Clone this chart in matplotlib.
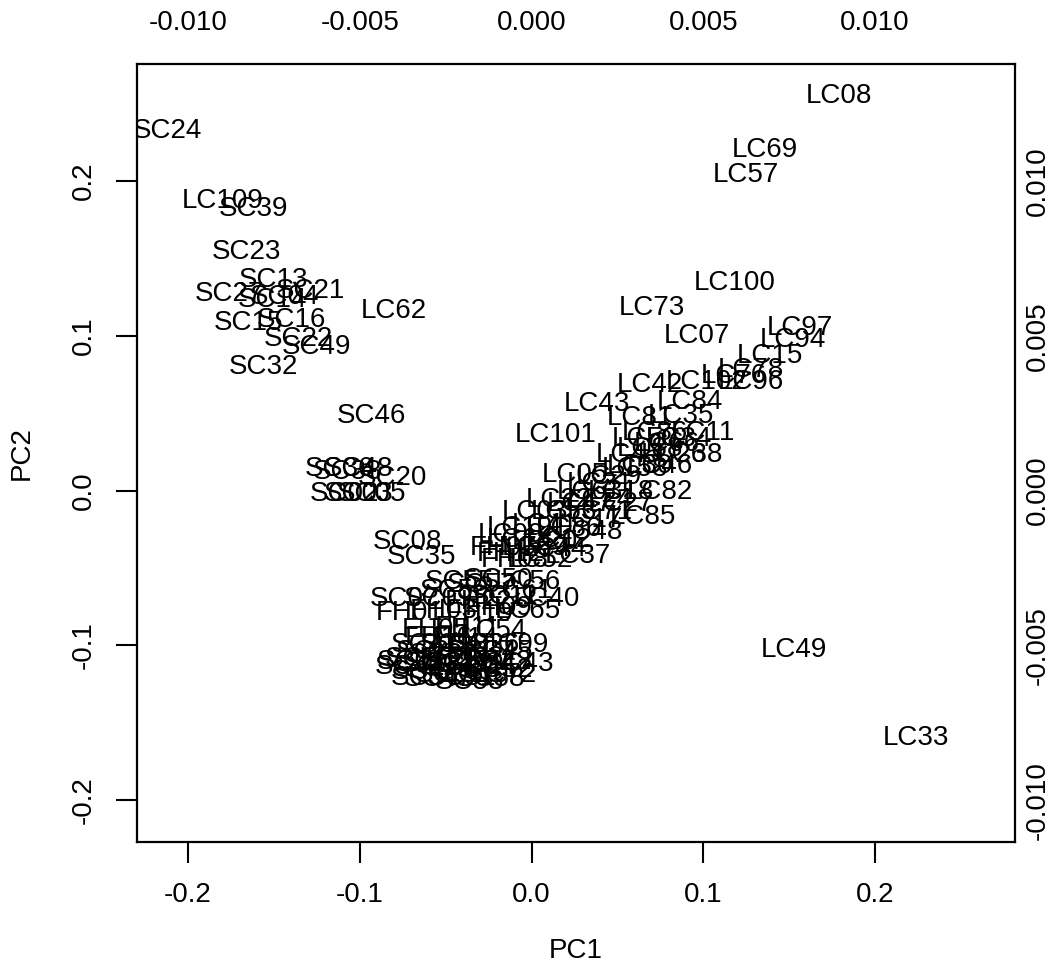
import matplotlib
matplotlib.use("Agg")
import matplotlib.pyplot as plt

plt.rcParams['font.family'] = ['Liberation Sans', 'DejaVu Sans']

# Sample labels and PC scores
labels = [
    "SC24", "LC08", "LC69", "LC57", "LC100", "LC73", "LC07", "LC97", "LC94", "LC15", "LC78",
    "LC42", "LC102", "LC96", "LC76", "LC43", "LC84", "LC81", "LC35", "LC11", "LC101",
    "LC86", "LC66", "LC88", "LC26", "LC30", "LC46", "LC05", "LC29", "LC58", "LC63", "LC18",
    "LC82", "LC03", "LC53", "LC71", "LC47", "LC85", "LC19", "LC41", "LC36", "LC48", "LC14",
    "FH07", "FH12", "LC39", "LC44", "LC37", "LC20", "LC24",
    "LC09", "LC12", "LC17", "LC22", "LC27", "LC31", "LC34", "LC38", "LC45", "LC50", "FH08", "LC52",
    "SC23", "LC109", "SC39", "SC13", "SC21", "SC27", "SC14", "SC04", "SC15", "SC16", "SC22",
    "SC49", "SC32", "LC62", "SC46", "SC36", "SC48", "SC38", "SC20", "SC02", "SC03", "SC05",
    "SC08", "SC35", "LC49", "LC33",
    "SC55", "SC57", "SC50", "LC56", "SC07", "SC09", "FH22", "SC11", "LC40", "FH01", "FH03",
    "FH19", "LC65", "FH05", "FH11", "LC54", "SC41", "SC18", "SC26", "LC99", "SC45", "SC28",
    "SC30", "SC33", "SC42", "SC12", "SC19", "SC34", "SC44", "SC06", "SC10", "SC52", "SC47",
    "SC31", "SC01", "LC72",
    "SC25", "SC29", "SC37", "SC40", "SC43", "SC53", "SC54", "SC58", "FH14", "FH16",
    "SC59", "FH09", "LC61",
]
pc1 = [
    -0.212, 0.179, 0.136, 0.125, 0.118, 0.070, 0.096, 0.156, 0.152, 0.139, 0.128,
    0.069, 0.102, 0.128, 0.118, 0.038, 0.092, 0.063, 0.087, 0.100, 0.014,
    0.072, 0.079, 0.069, 0.083, 0.063, 0.075, 0.025, 0.045, 0.060, 0.034, 0.052,
    0.075, 0.002, 0.019, 0.040, 0.028, 0.065, -0.007, 0.008, 0.022, 0.034, -0.007,
    -0.016, -0.012, 0.002, 0.013, 0.027, 0.008, 0.040,
    -0.012, 0.016, 0.034, 0.016, 0.052, 0.040, 0.086, 0.092, 0.057, 0.066, -0.010, 0.005,
    -0.166, -0.180, -0.162, -0.150, -0.129, -0.176, -0.151, -0.144, -0.165, -0.140, -0.136,
    -0.125, -0.156, -0.080, -0.093, -0.112, -0.101, -0.107, -0.081, -0.109, -0.101, -0.093,
    -0.072, -0.064, 0.153, 0.224,
    -0.042, -0.029, -0.019, -0.002, -0.074, -0.054, -0.031, -0.016, 0.009, -0.071, -0.051,
    -0.030, -0.002, -0.056, -0.037, -0.022, -0.062, -0.045, -0.027, -0.009, -0.019, -0.065,
    -0.051, -0.036, -0.020, -0.054, -0.042, -0.029, -0.062, -0.048, -0.033, -0.019, -0.054,
    -0.041, -0.070, -0.016,
    -0.059, -0.045, -0.030, -0.071, -0.007, -0.036, -0.062, -0.024, -0.039, -0.054,
    -0.045, -0.019, -0.007,
]
pc2 = [
    0.232, 0.255, 0.220, 0.204, 0.134, 0.118, 0.100, 0.105, 0.097, 0.087, 0.078,
    0.068, 0.070, 0.070, 0.074, 0.056, 0.057, 0.047, 0.048, 0.037, 0.036,
    0.037, 0.030, 0.027, 0.023, 0.016, 0.016, 0.010, 0.009, 0.014, -0.001, -0.001,
    -0.001, -0.014, -0.014, -0.014, -0.009, -0.017, -0.024, -0.022, -0.025, -0.027, -0.032,
    -0.037, -0.041, -0.037, -0.038, -0.042, -0.033, -0.006,
    -0.029, -0.032, -0.019, -0.006, -0.009, 0.004, 0.033, 0.023, 0.023, 0.033, -0.045, -0.045,
    0.154, 0.187, 0.182, 0.136, 0.129, 0.127, 0.123, 0.125, 0.108, 0.110, 0.098,
    0.093, 0.080, 0.116, 0.048, 0.014, 0.014, 0.012, 0.008, -0.002, -0.002, -0.002,
    -0.033, -0.043, -0.103, -0.160,
    -0.059, -0.061, -0.058, -0.059, -0.070, -0.070, -0.072, -0.069, -0.070, -0.079, -0.078,
    -0.080, -0.078, -0.090, -0.089, -0.091, -0.100, -0.100, -0.100, -0.100, -0.104, -0.109,
    -0.106, -0.108, -0.111, -0.112, -0.112, -0.114, -0.117, -0.119, -0.119, -0.116, -0.122,
    -0.121, -0.111, -0.119,
    -0.104, -0.109, -0.104, -0.114, -0.112, -0.124, -0.121, -0.122, -0.096, -0.095,
    -0.065, -0.076, -0.065,
]

ticks_main = [-0.2, -0.1, 0.0, 0.1, 0.2]
ticks_sec = [-0.010, -0.005, 0.000, 0.005, 0.010]
x_label = "PC1"
y_label = "PC2"

FS = 20

fig = plt.figure(figsize=(10.54, 9.69), dpi=100)
ax = fig.add_axes([0.13, 0.131, 0.833, 0.803])
ax.set_xlim(-0.2297, 0.2815)
ax.set_ylim(-0.2271, 0.2756)

for lab, x, y in zip(labels, pc1, pc2):
    ax.text(x, y, lab, ha='center', va='center', fontsize=FS, color='black', clip_on=True)

ax.set_xticks(ticks_main)
ax.set_xticklabels([f"{t:.1f}" for t in ticks_main])
ax.set_yticks(ticks_main)
ax.set_yticklabels([f"{t:.1f}" for t in ticks_main], rotation=90, va='center')
ax.tick_params(axis='both', direction='out', length=15, width=1.5, labelsize=FS, color='black')
ax.tick_params(axis='x', pad=14)
ax.tick_params(axis='y', pad=14)
for s in ax.spines.values():
    s.set_linewidth(1.6)

ax.set_xlabel(x_label, fontsize=FS, labelpad=21)
ax.set_ylabel(y_label, fontsize=FS, labelpad=26)

secx = ax.secondary_xaxis('top', functions=(lambda v: v / 20.0, lambda v: v * 20.0))
secx.set_xticks(ticks_sec)
secx.set_xticklabels([f"{t:.3f}" for t in ticks_sec])
secx.tick_params(length=0, labelsize=FS, pad=20)
secx.spines['top'].set_visible(False)

secy = ax.secondary_yaxis('right', functions=(lambda v: v / 20.0, lambda v: v * 20.0))
secy.set_yticks(ticks_sec)
secy.set_yticklabels([f"{t:.3f}" for t in ticks_sec], rotation=90, va='center')
secy.tick_params(length=0, labelsize=FS, pad=7)
secy.spines['right'].set_visible(False)

fig.savefig("out.png", dpi=100, facecolor='white')
